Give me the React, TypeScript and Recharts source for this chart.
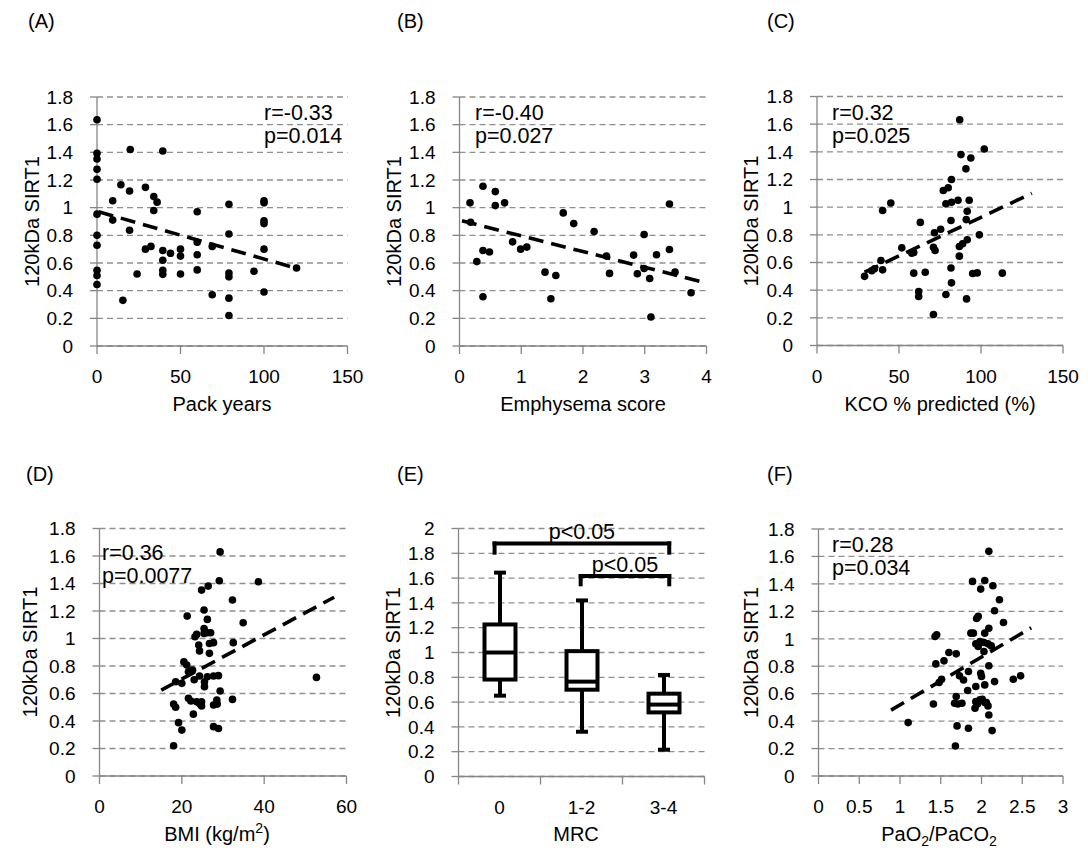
import React from 'react';
import {
  ScatterChart, Scatter, ComposedChart, Bar, XAxis, YAxis, CartesianGrid, ReferenceLine,
} from 'recharts';

// ---- values ----
const packYearsPts: [number, number][] = [
  [0, 1.635], [0, 1.393], [0, 1.352], [0, 1.277], [0, 1.205], [0, 0.953], [0, 0.8], [0, 0.728], [0, 0.547], [0, 0.51], [0, 0.445],
  [9.4, 1.05], [9.4, 0.91], [14.3, 1.166], [15.5, 0.33], [19.5, 1.12], [19.9, 1.42], [19.5, 0.837], [24, 0.52],
  [29, 1.147], [29, 0.7], [32.3, 0.72], [34, 1.08], [36, 1.04], [34, 0.98], [39.4, 1.41], [39.4, 0.69], [39.4, 0.62],
  [39.4, 0.547], [39.4, 0.518], [44, 0.67], [50, 0.7], [50, 0.65], [50, 0.52], [60, 0.97], [60, 0.75], [60, 0.66],
  [60, 0.55], [69, 0.37], [69, 0.72], [79, 1.025], [79, 0.81], [79, 0.527], [79, 0.5], [79, 0.346], [79, 0.22],
  [94, 0.54], [100, 1.05], [100, 1.035], [100, 0.905], [100, 0.885], [100, 0.7], [100, 0.39], [119.5, 0.564],
];
const packYearsTrend: [number, number][] = [[1, 0.97], [120, 0.56]];

const emphysemaPts: [number, number][] = [
  [0.17, 1.035], [0.18, 0.895], [0.28, 0.61], [0.38, 1.155], [0.38, 0.69], [0.38, 0.356], [0.485, 0.68], [0.58, 1.116],
  [0.58, 1.015], [0.73, 1.035], [0.86, 0.753], [0.99, 0.7], [1.09, 0.715], [1.385, 0.534], [1.48, 0.342], [1.56, 0.51],
  [1.68, 0.962], [1.85, 0.885], [2.18, 0.828], [2.38, 0.65], [2.43, 0.525], [2.82, 0.657], [2.88, 0.522], [2.99, 0.806],
  [2.99, 0.56], [3.08, 0.488], [3.1, 0.21], [3.19, 0.66], [3.4, 1.027], [3.4, 0.698], [3.49, 0.534], [3.75, 0.385],
];
const emphysemaTrend: [number, number][] = [[0.04, 0.905], [3.96, 0.46]];

const kcoPts: [number, number][] = [
  [29, 0.5], [33.4, 0.54], [35, 0.555], [40, 0.976], [39, 0.615], [40, 0.547], [45, 1.03], [51.7, 0.706], [57.8, 0.668],
  [59, 0.672], [59, 0.523], [63, 0.89], [62, 0.39], [62, 0.354], [66, 0.53], [71, 0.71], [71.6, 0.815], [72, 0.687],
  [71, 0.224], [75.4, 0.84], [77, 1.12], [78.6, 1.024], [80, 1.14], [82, 1.2], [82, 1.036], [81.7, 0.904], [81.7, 0.56],
  [82, 0.453], [78.6, 0.369], [87, 1.632], [87.8, 1.38], [86, 1.05], [86.8, 0.716], [86.8, 0.646], [88.8, 0.735],
  [90.8, 1.277], [91, 0.91], [91.6, 0.97], [91.6, 0.765], [92.8, 1.05], [91.2, 0.337], [93.8, 1.355], [94.9, 0.52],
  [97.7, 0.525], [99, 0.8], [102, 1.42], [113, 0.523],
];
const kcoTrend: [number, number][] = [[29, 0.53], [131, 1.1]];

const bmiPts: [number, number][] = [
  [18, 0.22], [18.5, 0.686], [18, 0.523], [18.5, 0.5], [19.2, 0.388], [20, 0.334], [20, 0.674], [20.5, 0.83], [21.2, 0.807],
  [21.3, 1.163], [21.6, 0.758], [21.6, 0.565], [22.2, 0.545], [22.6, 0.77], [23, 0.7], [22.8, 0.45], [23.2, 1.013],
  [23.6, 1.03], [24.1, 0.952], [24.3, 0.91], [24.3, 0.727], [23.6, 0.54], [24.4, 0.523], [24.8, 0.54], [24.8, 0.509],
  [24.8, 1.352], [25.4, 1.073], [25.4, 1.207], [25.4, 1.037], [25.5, 0.686], [25.5, 0.65], [26.2, 0.722], [26.4, 1.381],
  [26.2, 1.139], [26.2, 1.042], [26.7, 0.964], [26.7, 0.892], [27, 1.042], [27.7, 0.97], [27.7, 0.727], [27.7, 0.516],
  [27.7, 0.359], [28.5, 0.552], [28.6, 0.523], [28.9, 0.346], [28.9, 0.73], [29.3, 1.63], [29.1, 1.42], [29.3, 0.618],
  [32.3, 1.28], [32.5, 0.97], [32.3, 0.557], [34.9, 1.115], [38.6, 1.413], [52.7, 0.717],
];
const bmiTrend: [number, number][] = [[15, 0.625], [57, 1.3]];

const pao2Pts: [number, number][] = [
  [1.1, 0.389], [1.41, 0.525], [1.44, 0.817], [1.48, 0.681], [1.51, 0.705], [1.54, 0.839], [1.43, 1.017], [1.45, 1.029],
  [1.6, 0.9], [1.69, 0.89], [1.69, 0.579], [1.67, 0.53], [1.71, 0.525], [1.76, 0.53], [1.7, 0.365], [1.68, 0.219],
  [1.73, 0.73], [1.78, 0.7], [1.84, 0.348], [1.83, 0.623], [1.84, 0.761], [1.89, 1.418], [1.87, 1.041], [1.9, 1.041],
  [1.93, 0.542], [1.92, 0.494], [1.95, 0.525], [1.96, 0.944], [1.93, 0.963], [1.94, 1.148], [1.96, 1.163], [1.93, 0.652],
  [1.98, 0.555], [2.01, 0.559], [2.04, 0.535], [1.99, 1.362], [1.99, 0.749], [2.0, 0.725], [1.98, 0.98], [2.03, 0.973],
  [2.04, 1.425], [2.04, 1.041], [2.03, 0.907], [2.04, 0.664], [2.06, 0.535], [2.08, 0.511], [2.09, 0.803], [2.09, 1.077],
  [2.09, 0.445], [2.09, 1.637], [2.12, 0.948], [2.14, 1.386], [2.16, 1.204], [2.16, 0.688], [2.13, 0.331], [2.22, 1.284],
  [2.27, 1.119], [2.39, 0.705], [2.48, 0.73], [2.08, 0.963],
];
const pao2Trend: [number, number][] = [[0.89, 0.48], [2.61, 1.08]];

// MRC box plot
const mrcGroups = ['0', '1-2', '3-4'];
const mrcMin = [0.652, 0.361, 0.216];
const mrcQ1 = [0.782, 0.7, 0.517];
const mrcMedian = [1.0, 0.765, 0.58];
const mrcQ3 = [1.226, 1.011, 0.668];
const mrcMax = [1.644, 1.42, 0.819];
const mrcBrackets = [
  { from: 0.44, to: 2.57, top: 1.88, leg: 1.805, text: 'p<0.05' },
  { from: 1.49, to: 2.57, top: 1.617, leg: 1.55, text: 'p<0.05' },
];

const sirtTicks = [0, 0.2, 0.4, 0.6, 0.8, 1, 1.2, 1.4, 1.6, 1.8];
const mrcYTicks = [0, 0.2, 0.4, 0.6, 0.8, 1, 1.2, 1.4, 1.6, 1.8, 2];
const packYearTicks = [0, 50, 100, 150];
const emphysemaTicks = [0, 1, 2, 3, 4];
const kcoTicks = [0, 50, 100, 150];
const bmiTicks = [0, 20, 40, 60];
const pao2Ticks = [0, 0.5, 1, 1.5, 2, 2.5, 3];
const mrcXTicks = [0, 0.5, 1, 1.5, 2, 2.5, 3];

// ---- styling / layout ----
const FONT = '"Liberation Sans", Arial, Helvetica, sans-serif';
const AXIS = '#868686';
const GRID = '#8f8f8f';
const TICK_FS = 19;
const TITLE_FS = 20;
const NOTE_FS = 21.5;
const XH = 60;
const SPARE = 24; // extra room on the right so the last tick label is not clipped

const fmt = (v: number) => String(+v.toFixed(1));

type Part = { t: string; s?: 'sub' | 'sup' };

const scatterPanels = [
  {
    id: 'A', left: 0, top: 40, width: 360, height: 400, plot: { l: 97, r: 347.5, t: 97, b: 346 },
    pts: packYearsPts, trend: packYearsTrend, xTicks: packYearTicks,
  },
  {
    id: 'B', left: 360, top: 40, width: 360, height: 400, plot: { l: 459.5, r: 706.5, t: 97, b: 346 },
    pts: emphysemaPts, trend: emphysemaTrend, xTicks: emphysemaTicks,
  },
  {
    id: 'C', left: 720, top: 40, width: 368, height: 400, plot: { l: 817, r: 1063, t: 96.5, b: 345.5 },
    pts: kcoPts, trend: kcoTrend, xTicks: kcoTicks,
  },
  {
    id: 'D', left: 0, top: 490, width: 360, height: 362, plot: { l: 99.5, r: 346.5, t: 528.5, b: 776 },
    pts: bmiPts, trend: bmiTrend, xTicks: bmiTicks,
  },
  {
    id: 'F', left: 720, top: 490, width: 368, height: 362, plot: { l: 818.5, r: 1063, t: 529, b: 776 },
    pts: pao2Pts, trend: pao2Trend, xTicks: pao2Ticks,
  },
];

const mrcLayout = { left: 360, top: 490, width: 360, height: 362, plot: { l: 458.5, r: 704.5, t: 528.5, b: 776.5 } };

// text placed on the page (baselines)
const panelLetters = [
  { t: '(A)', x: 28, y: 28 }, { t: '(B)', x: 397, y: 28 }, { t: '(C)', x: 767, y: 28 },
  { t: '(D)', x: 26, y: 481 }, { t: '(E)', x: 397, y: 481 }, { t: '(F)', x: 767, y: 481 },
];
const notes = [
  { t: 'r=-0.33', x: 264, y: 119.5 }, { t: 'p=0.014', x: 264, y: 143 },
  { t: 'r=-0.40', x: 475, y: 119.5 }, { t: 'p=0.027', x: 475, y: 143 },
  { t: 'r=0.32', x: 832, y: 119.5 }, { t: 'p=0.025', x: 832, y: 143 },
  { t: 'r=0.36', x: 102, y: 559.5 }, { t: 'p=0.0077', x: 102, y: 583 },
  { t: 'r=0.28', x: 832, y: 551.5 }, { t: 'p=0.034', x: 832, y: 575 },
];
const xTitles: { parts: Part[]; x: number; y: number }[] = [
  { parts: [{ t: 'Pack years' }], x: 222, y: 411 },
  { parts: [{ t: 'Emphysema score' }], x: 583, y: 411 },
  { parts: [{ t: 'KCO % predicted (%)' }], x: 940, y: 411 },
  { parts: [{ t: 'BMI (kg/m' }, { t: '2', s: 'sup' }, { t: ')' }], x: 217, y: 840.5 },
  { parts: [{ t: 'MRC' }], x: 576, y: 840.5 },
  { parts: [{ t: 'PaO' }, { t: '2', s: 'sub' }, { t: '/PaCO' }, { t: '2', s: 'sub' }], x: 939, y: 840.5 },
];
const yTitles = [
  { x: 39, y: 221.5 }, { x: 401, y: 221.5 }, { x: 758, y: 221 },
  { x: 37, y: 652 }, { x: 400, y: 652.5 }, { x: 758, y: 652.5 },
];

const Dot = (p: any) => <circle cx={p.cx} cy={p.cy} r={3.8} fill="#000" />;

const tickStyle = { fill: '#000', fontSize: TICK_FS, fontFamily: FONT };

function ScatterPanel({ cfg }: { cfg: typeof scatterPanels[number] }) {
  const { left, top, height, plot, pts, trend, xTicks } = cfg;
  const width = cfg.width + SPARE;
  const data = pts.map(([x, y]) => ({ x, y }));
  const margin = {
    top: plot.t - top,
    right: left + width - plot.r,
    bottom: top + height - plot.b - XH,
    left: 0,
  };
  return (
    <div style={{ position: 'absolute', left, top, width, height }}>
      <ScatterChart width={width} height={height} margin={margin}>
        <CartesianGrid vertical={false} stroke={GRID} strokeWidth={1.3} strokeDasharray="6 4" />
        <XAxis
          type="number" dataKey="x" domain={[xTicks[0], xTicks[xTicks.length - 1]]} ticks={xTicks}
          interval={0} height={XH} stroke={AXIS} strokeWidth={1.3} tickSize={8} tickMargin={16}
          tick={tickStyle} tickFormatter={fmt}
        />
        <YAxis
          type="number" dataKey="y" domain={[0, 1.8]} ticks={sirtTicks} interval={0}
          width={plot.l - left} stroke={AXIS} strokeWidth={1.3} tickSize={7} tickMargin={17}
          tick={tickStyle} tickFormatter={fmt}
        />
        <Scatter data={data} isAnimationActive={false} shape={Dot} />
        <ReferenceLine
          segment={trend.map(([x, y]) => ({ x, y }))}
          stroke="#000" strokeWidth={3.6} strokeDasharray="15 8"
        />
      </ScatterChart>
    </div>
  );
}

const BoxShape = (p: any) => {
  const { x, width, y, height, payload } = p;
  if (!payload || height == null) return null;
  const { min, q1, median, q3, max } = payload;
  const py = (v: number) => y + (height * (max - v)) / (max - min);
  const cx = x + width / 2;
  return (
    <g stroke="#000" strokeWidth={4} fill="#fff">
      <line x1={cx} x2={cx} y1={py(max)} y2={py(min)} />
      <line x1={cx - 6} x2={cx + 6} y1={py(max)} y2={py(max)} />
      <line x1={cx - 6} x2={cx + 6} y1={py(min)} y2={py(min)} />
      <rect x={x} y={py(q3)} width={width} height={py(q1) - py(q3)} />
      <line x1={x} x2={x + width} y1={py(median)} y2={py(median)} />
    </g>
  );
};

const MrcTick = (p: any) => {
  const v = p.payload?.value;
  if (v == null) return null;
  if (Number.isInteger(v)) {
    return <line x1={p.x} x2={p.x} y1={p.y - 24} y2={p.y - 16} stroke={AXIS} strokeWidth={1.3} />;
  }
  return (
    <text x={p.x} y={p.y} dy="0.71em" textAnchor="middle" fill="#000" fontSize={TICK_FS} fontFamily={FONT}>
      {mrcGroups[Math.floor(v)]}
    </text>
  );
};

function MrcPanel() {
  const { left, top, width, height, plot } = mrcLayout;
  const data = mrcGroups.map((g, i) => ({
    pos: i + 0.5,
    group: g,
    min: mrcMin[i],
    q1: mrcQ1[i],
    median: mrcMedian[i],
    q3: mrcQ3[i],
    max: mrcMax[i],
    range: [mrcMin[i], mrcMax[i]],
  }));
  const margin = {
    top: plot.t - top,
    right: left + width - plot.r,
    bottom: top + height - plot.b - XH,
    left: 0,
  };
  return (
    <div style={{ position: 'absolute', left, top, width, height }}>
      <ComposedChart width={width} height={height} margin={margin} data={data}>
        <CartesianGrid vertical={false} stroke={GRID} strokeWidth={1.3} strokeDasharray="6 4" />
        <XAxis
          type="number" dataKey="pos" domain={[0, 3]} ticks={mrcXTicks} interval={0} height={XH}
          stroke={AXIS} strokeWidth={1.3} tickLine={false} tickSize={8} tickMargin={16} tick={<MrcTick />}
        />
        <YAxis
          type="number" domain={[0, 2]} ticks={mrcYTicks} interval={0} width={plot.l - left}
          stroke={AXIS} strokeWidth={1.3} tickSize={7} tickMargin={17} tick={tickStyle} tickFormatter={fmt}
        />
        <Bar dataKey="range" barSize={31} isAnimationActive={false} shape={BoxShape} />
        {mrcBrackets.map((b, i) => (
          <ReferenceLine
            key={`bt${i}`}
            segment={[{ x: b.from, y: b.top }, { x: b.to, y: b.top }]}
            stroke="#000" strokeWidth={4} strokeLinecap="square"
            label={{ value: b.text, position: 'top', offset: 4, fill: '#000', fontSize: NOTE_FS, fontFamily: FONT }}
          />
        ))}
        {mrcBrackets.map((b, i) => (
          <ReferenceLine
            key={`bl${i}`}
            segment={[{ x: b.from, y: b.top }, { x: b.from, y: b.leg }]}
            stroke="#000" strokeWidth={4} strokeLinecap="square"
          />
        ))}
        {mrcBrackets.map((b, i) => (
          <ReferenceLine
            key={`br${i}`}
            segment={[{ x: b.to, y: b.top }, { x: b.to, y: b.leg }]}
            stroke="#000" strokeWidth={4} strokeLinecap="square"
          />
        ))}
      </ComposedChart>
    </div>
  );
}

function TitleText({ parts, x, y }: { parts: Part[]; x: number; y: number }) {
  const shiftOf = (s?: string) => (s === 'sub' ? 5 : s === 'sup' ? -8 : 0);
  return (
    <text x={x} y={y} textAnchor="middle" fontSize={TITLE_FS} fontFamily={FONT} fill="#000">
      {parts.map((p, i) => (
        <tspan key={i} dy={shiftOf(p.s) - shiftOf(i > 0 ? parts[i - 1].s : undefined)} fontSize={p.s ? 14 : TITLE_FS}>
          {p.t}
        </tspan>
      ))}
    </text>
  );
}

export default function App() {
  return (
    <div style={{ position: 'absolute', left: 0, top: 0, width: 1088, height: 852, background: '#fff', fontFamily: FONT, overflow: 'hidden' }}>
      {scatterPanels.map((cfg) => <ScatterPanel key={cfg.id} cfg={cfg} />)}
      <MrcPanel />
      <svg width={1088} height={852} style={{ position: 'absolute', left: 0, top: 0, pointerEvents: 'none' }}>
        {panelLetters.map((l) => (
          <text key={l.t} x={l.x} y={l.y} fontSize={TITLE_FS} fontFamily={FONT} fill="#000">{l.t}</text>
        ))}
        {notes.map((n, i) => (
          <text key={i} x={n.x} y={n.y} fontSize={NOTE_FS} fontFamily={FONT} fill="#000">{n.t}</text>
        ))}
        {xTitles.map((t, i) => <TitleText key={i} parts={t.parts} x={t.x} y={t.y} />)}
        {yTitles.map((t, i) => (
          <text key={i} x={t.x} y={t.y} transform={`rotate(-90 ${t.x} ${t.y})`} textAnchor="middle"
            fontSize={TITLE_FS} fontFamily={FONT} fill="#000">
            120kDa SIRT1
          </text>
        ))}
      </svg>
    </div>
  );
}
